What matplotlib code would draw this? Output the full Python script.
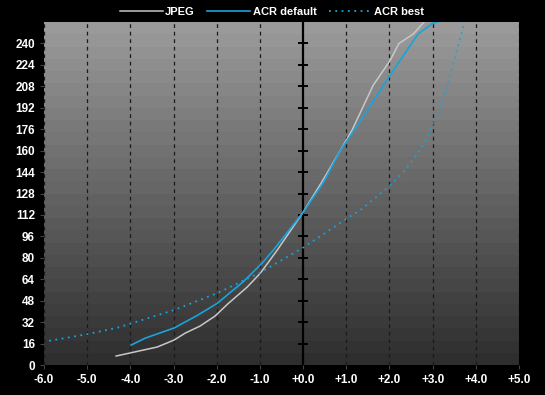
import numpy as np
import matplotlib
matplotlib.use("Agg")
import matplotlib.pyplot as plt

# exposure offset (EV) vs output level
jpeg_x = [-4.33, -3.38, -2.99, -2.73, -2.39, -2.04, -1.73, -1.30, -0.99, -0.60, 0.0,
          0.46, 0.86, 1.13, 1.62, 2.01, 2.22, 2.55, 2.83]
jpeg_y = [6.7, 13.4, 18.6, 23.8, 29.0, 36.5, 46.0, 58.0, 68.5, 85.7, 114.0,
          138.0, 160.0, 175.0, 208.6, 227.0, 240.0, 247.0, 257.0]

acr_def_x = [-3.98, -3.66, -2.99, -2.45, -1.99, -1.39, -0.95, -0.69, 0.0,
             0.46, 0.86, 1.18, 2.01, 2.66, 3.0, 3.29]
acr_def_y = [14.9, 20.0, 27.6, 37.0, 46.0, 62.0, 76.0, 85.7, 114.0,
             135.6, 160.0, 175.0, 216.0, 247.0, 255.0, 258.0]

acr_best_x = [-5.88, -5.0, -4.28, -2.99, -1.99, -0.99, 0.02, 1.02, 1.32,
              1.97, 2.32, 2.66, 2.87, 3.01, 3.24, 3.75]
acr_best_y = [18.0, 23.0, 28.0, 41.0, 53.6, 69.0, 88.0, 109.5, 115.5,
              132.6, 144.0, 158.0, 169.0, 180.0, 197.5, 257.0]

x_ticks = list(range(-6, 6))
x_labels = ["%+.1f" % v if v != 0 else "+0.0" for v in x_ticks]
y_ticks = list(range(0, 256, 16))

fig = plt.figure(figsize=(5.45, 3.95), dpi=100, facecolor="black")
ax = fig.add_axes([44 / 545, 30 / 395, 475 / 545, 343 / 395])
ax.set_facecolor("black")

# stepped gray background
n_bands = 28
levels = np.linspace(0x2e, 0x9a, n_bands) / 255.0
img = np.repeat(levels[:, None], 2, axis=1)
ax.imshow(img, cmap="gray", vmin=0, vmax=1, origin="lower", aspect="auto",
          extent=[-6, 5, 0, 256], interpolation="nearest", zorder=0)

for v in x_ticks:
    if v == 0:
        continue
    ax.axvline(v, color="#1a1a1a", lw=0.9, ls=(0, (3, 3)), zorder=1)
ax.axvline(0, color="black", lw=1.6, zorder=2)
ax.plot([0] * (len(y_ticks) - 1), y_ticks[1:], ls="none", marker="_",
        markersize=6.5, mew=1.4, color="black", zorder=2)

ax.plot(jpeg_x, jpeg_y, color="#c8c8c8", lw=1.1, label="JPEG", zorder=3)
ax.plot(acr_def_x, acr_def_y, color="#1aa3dc", lw=1.2, label="ACR default", zorder=4)
ax.plot(acr_best_x, acr_best_y, color="#1aa3dc", lw=1.3, ls=(0, (1, 2.5)),
        label="ACR best", zorder=4)

ax.set_xlim(-6, 5)
ax.set_ylim(0, 256)
ax.set_xticks(x_ticks)
ax.set_xticklabels(x_labels)
ax.set_yticks(y_ticks)
for s in ax.spines.values():
    s.set_visible(False)
ax.tick_params(colors="white", labelsize=8.5, length=3, width=0.8)
ax.tick_params(axis="both", color="#444444")
for lab in ax.get_xticklabels() + ax.get_yticklabels():
    lab.set_fontfamily("Liberation Sans")
    lab.set_fontweight("bold")

leg = ax.legend(loc="lower center", bbox_to_anchor=(0.48, 0.995), ncol=3,
                frameon=False, handlelength=3.9, columnspacing=1.1,
                handletextpad=0.2, borderaxespad=0.2,
                prop={"family": "Liberation Sans", "weight": "bold", "size": 8})
for t in leg.get_texts():
    t.set_color("white")

fig.savefig("out.png", dpi=100, facecolor="black")
